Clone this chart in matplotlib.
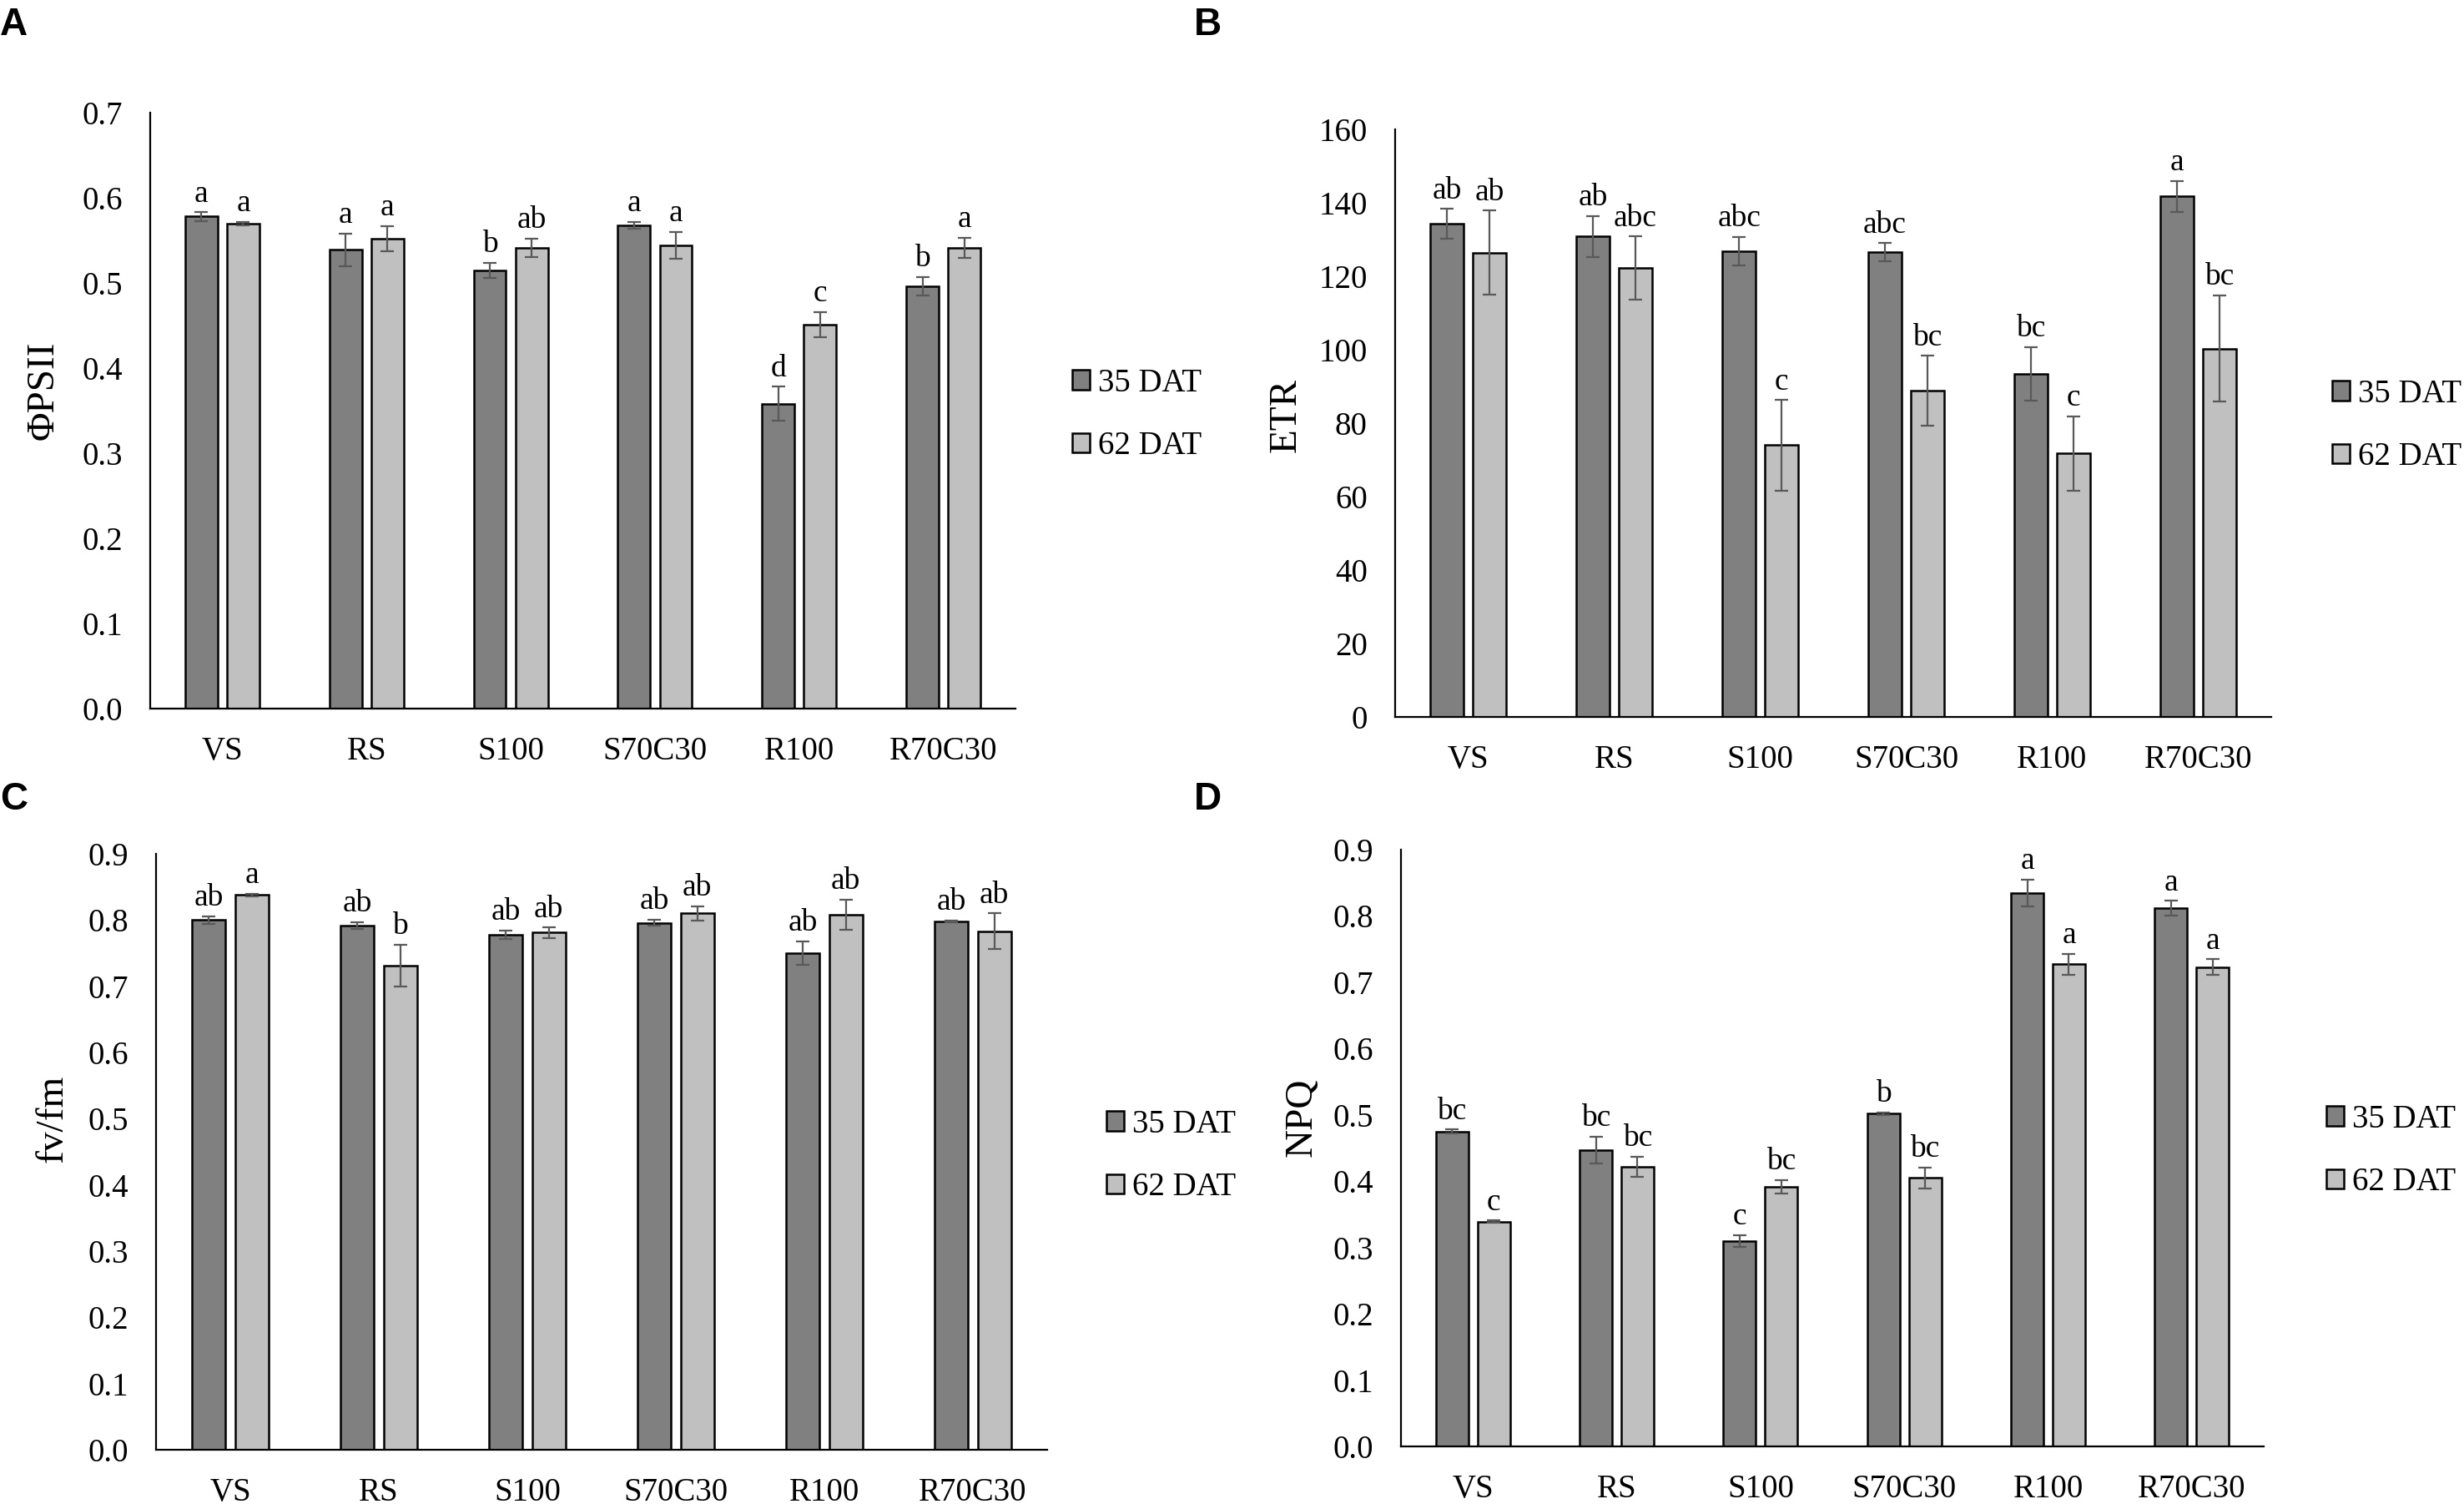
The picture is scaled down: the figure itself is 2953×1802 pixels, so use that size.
import numpy as np
import matplotlib.pyplot as plt

plt.rcParams['font.family'] = ['Liberation Serif', 'DejaVu Serif']

treatments = ['VS', 'RS', 'S100', 'S70C30', 'R100', 'R70C30']
series = ['35 DAT', '62 DAT']

# A - PhiPSII
phi_35 = [0.578, 0.539, 0.515, 0.568, 0.358, 0.496]
phi_35_err = [0.005, 0.019, 0.009, 0.004, 0.020, 0.011]
phi_62 = [0.570, 0.552, 0.541, 0.544, 0.451, 0.541]
phi_62_err = [0.002, 0.015, 0.011, 0.016, 0.015, 0.012]
phi_35_let = ['a', 'a', 'b', 'a', 'd', 'b']
phi_62_let = ['a', 'a', 'ab', 'a', 'c', 'a']

# B - ETR
etr_35 = [134.3, 130.8, 126.8, 126.6, 93.4, 141.8]
etr_35_err = [4.0, 5.6, 3.9, 2.4, 7.3, 4.2]
etr_62 = [126.4, 122.2, 74.0, 88.9, 71.8, 100.3]
etr_62_err = [11.5, 8.6, 12.3, 9.5, 10.1, 14.5]
etr_35_let = ['ab', 'ab', 'abc', 'abc', 'bc', 'a']
etr_62_let = ['ab', 'abc', 'c', 'bc', 'c', 'bc']

# C - fv/fm
fvfm_35 = [0.800, 0.792, 0.778, 0.796, 0.750, 0.798]
fvfm_35_err = [0.006, 0.005, 0.0065, 0.005, 0.018, 0.0015]
fvfm_62 = [0.838, 0.731, 0.781, 0.810, 0.808, 0.783]
fvfm_62_err = [0.002, 0.032, 0.008, 0.011, 0.023, 0.027]
fvfm_35_let = ['ab', 'ab', 'ab', 'ab', 'ab', 'ab']
fvfm_62_let = ['a', 'b', 'ab', 'ab', 'ab', 'ab']

# D - NPQ
npq_35 = [0.475, 0.447, 0.310, 0.502, 0.835, 0.812]
npq_35_err = [0.003, 0.020, 0.009, 0.002, 0.020, 0.011]
npq_62 = [0.339, 0.422, 0.392, 0.405, 0.727, 0.723]
npq_62_err = [0.002, 0.015, 0.010, 0.016, 0.016, 0.012]
npq_35_let = ['bc', 'bc', 'c', 'b', 'a', 'a']
npq_62_let = ['c', 'bc', 'bc', 'bc', 'a', 'a']

W, H = 2953, 1802
fig = plt.figure(figsize=(W / 100, H / 100), dpi=100)


def px_rect(left, right, top, bottom):
    return [left / W, 1 - bottom / H, (right - left) / W, (bottom - top) / H]


panels = [
    # rect, letter, letter pos, ylabel, label coords, ymax, step, fmt, legend anchor, data
    (px_rect(180, 1217, 135, 849), 'A', (0, 8), 'ΦPSII', (-0.103, 0.534), 0.7, 0.1, '{:.1f}',
     (1285, 497), (phi_35, phi_35_err, phi_62, phi_62_err, phi_35_let, phi_62_let)),
    (px_rect(1672, 2722, 155, 859), 'B', (1431, 8), 'ETR', (-0.104, 0.514), 160, 20, '{:.0f}',
     (2795, 510), (etr_35, etr_35_err, etr_62, etr_62_err, etr_35_let, etr_62_let)),
    (px_rect(187, 1255, 1023, 1737), 'C', (0, 936), 'fv/fm', (-0.096, 0.555), 0.9, 0.1, '{:.1f}',
     (1326, 1385), (fvfm_35, fvfm_35_err, fvfm_62, fvfm_62_err, fvfm_35_let, fvfm_62_let)),
    (px_rect(1679, 2713, 1018, 1733), 'D', (1431, 936), 'NPQ', (-0.094, 0.551), 0.9, 0.1, '{:.1f}',
     (2788, 1379), (npq_35, npq_35_err, npq_62, npq_62_err, npq_35_let, npq_62_let)),
]

x = np.arange(len(treatments))
bw = 0.225
off = 0.145
ekw = dict(ecolor='#595959', elinewidth=1.6, capsize=6, capthick=1.6)

for rect, letter, lpos, ylabel, lcoords, ymax, step, fmt, leg, data in panels:
    v35, e35, v62, e62, t35, t62 = data
    ax = fig.add_axes(rect)
    b1 = ax.bar(x - off, v35, bw, yerr=e35, color='#808080', edgecolor='black',
                linewidth=1.8, error_kw=ekw, label=series[0])
    b2 = ax.bar(x + off, v62, bw, yerr=e62, color='#c0c0c0', edgecolor='black',
                linewidth=1.8, error_kw=ekw, label=series[1])
    for xs, vals, errs, labs in [(x - off, v35, e35, t35), (x + off, v62, e62, t62)]:
        for xi, v, e, t in zip(xs, vals, errs, labs):
            ax.annotate(t, (xi, v + e), xytext=(0, 9), textcoords='offset points',
                        ha='center', va='baseline', fontsize=27)
    ax.set_xlim(-0.5, 5.5)
    ax.set_ylim(0, ymax)
    ticks = np.arange(0, ymax + step / 2, step)
    ax.set_yticks(ticks)
    ax.set_yticklabels([fmt.format(t) for t in ticks])
    ax.set_xticks(x)
    ax.set_xticklabels(treatments)
    ax.tick_params(axis='y', length=0, labelsize=28, pad=24)
    ax.tick_params(axis='x', length=0, labelsize=28, pad=24)
    for s in ['top', 'right']:
        ax.spines[s].set_visible(False)
    for s in ['left', 'bottom']:
        ax.spines[s].set_linewidth(1.6)
    ax.set_ylabel(ylabel, fontsize=34)
    ax.yaxis.set_label_coords(*lcoords)
    ax.legend(handles=[b1, b2], loc='center left',
              bbox_to_anchor=(leg[0] / W, 1 - leg[1] / H), bbox_transform=fig.transFigure,
              frameon=False, fontsize=28, handlelength=0.55, handleheight=0.55,
              handletextpad=0.25, labelspacing=1.0, borderpad=0, borderaxespad=0)
    fig.text(lpos[0] / W, 1 - lpos[1] / H, letter, ha='left', va='top',
             fontsize=33, fontweight='bold', family='Liberation Sans')

fig.savefig('out.png', dpi=100)
